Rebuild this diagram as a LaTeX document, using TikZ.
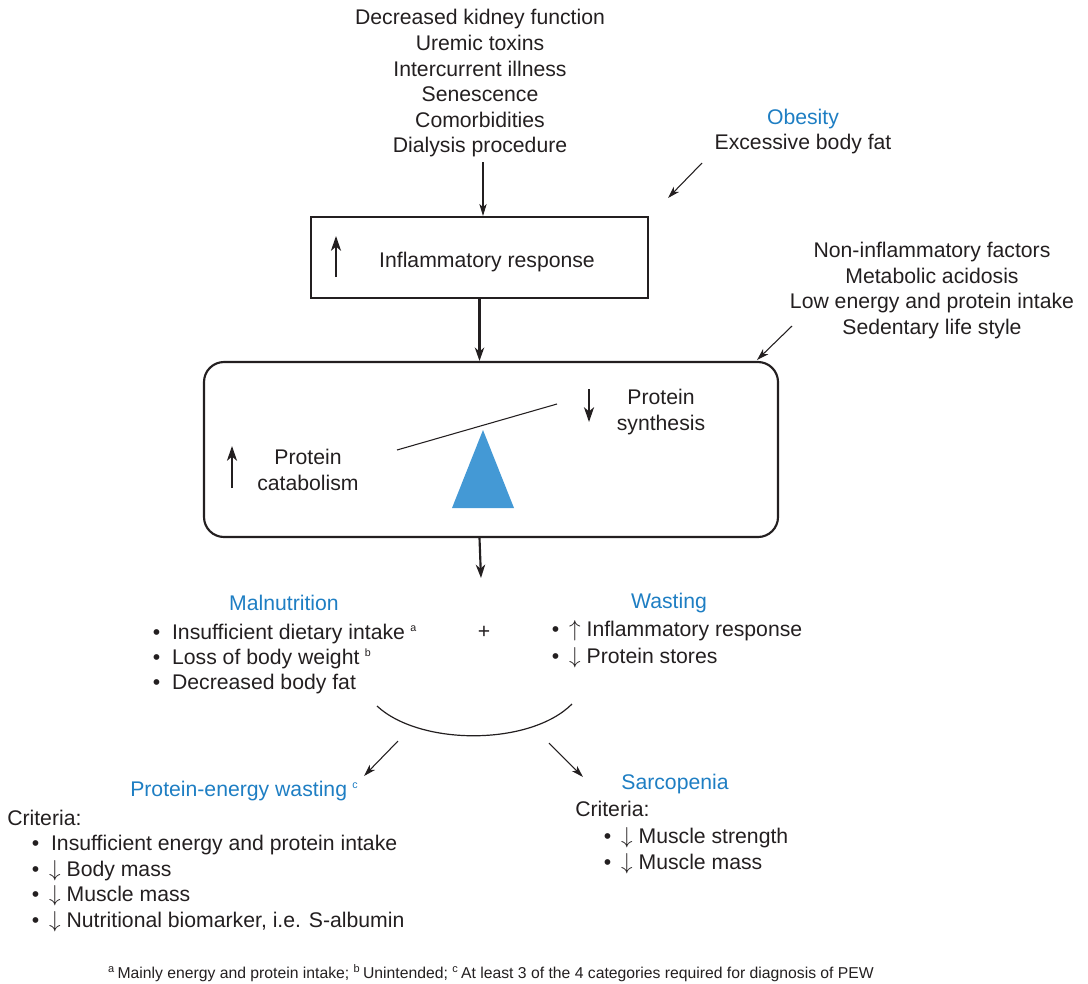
\documentclass[tikz,border=0pt]{standalone}
\usepackage{fontspec}
\setmainfont{Liberation Sans}
\usetikzlibrary{arrows.meta}
\definecolor{hblue}{HTML}{1E7EC3}
\definecolor{tri}{HTML}{4499D5}
\definecolor{ink}{HTML}{231F20}
\newcommand\bul{\makebox[14.5pt][l]{\textbullet}}
\newcommand\upar{\hspace{-1.5pt}$\uparrow$\hspace{4.5pt}}
\newcommand\dnar{\hspace{-1.5pt}$\downarrow$\hspace{4.5pt}}
\newcommand\sups[1]{\hspace{4pt}\raisebox{5.5pt}{\fontsize{8}{8}\selectfont #1}}
\begin{document}
\begin{tikzpicture}[x=0.75pt,y=-0.75pt,
  every node/.style={font=\fontsize{15.9}{19.2}\selectfont, text=ink, inner sep=0pt},
  ctr/.style={align=center},
  lst/.style={anchor=base west},
  ttl/.style={text=hblue},
  box/.style={draw=ink, line width=1.6pt},
  arr/.style={draw=ink, line width=0.8pt, -{Stealth[length=9pt,width=5.5pt,inset=2.5pt]}},
  arrT/.style={draw=ink, line width=1.6pt, -{Stealth[length=10pt,width=7pt,inset=3pt]}},
  glyph/.style={draw=ink, line width=1.6pt, -{Stealth[length=11pt,width=7.5pt,inset=3pt]}},
  note/.style={font=\fontsize{11.8}{14}\selectfont}
]
\useasboundingbox (0,0) rectangle (1088,983);

% top causes
\node[ctr] (causes) at (480,83.5) {Decreased kidney function\\Uremic toxins\\Intercurrent illness\\Senescence\\Comorbidities\\Dialysis procedure};
\coordinate (a1s) at (483,162);

% inflammatory box
\node[box, minimum width=252.75pt, minimum height=60.75pt] (box1) at (479.5,257.5) {};
\node (infl) at (487,262.5) {Inflammatory response};
\coordinate (g1s) at (336,277);
\coordinate (g1e) at (336,236);
\draw[glyph] (g1s) -- (g1e);
\draw[arr] (a1s) -- (a1s |- box1.north);

% obesity
\node[ttl] (obes) at (803,119.5) {Obesity};
\node (fat) at (803,144.5) {Excessive body fat};
\coordinate (o1s) at (702,163);
\coordinate (o1e) at (668,198);
\draw[arr] (o1s) -- (o1e);

% non-inflammatory
\node[ctr] (noninf) at (932,290.5) {Non-inflammatory factors\\Metabolic acidosis\\Low energy and protein intake\\Sedentary life style};
\coordinate (n1s) at (792,326);
\coordinate (n1e) at (757,360);
\draw[arr] (n1s) -- (n1e);

% seesaw box
\node[box, rounded corners=15pt, minimum width=430.5pt, minimum height=131.25pt] (box2) at (491,449.5) {};
\draw[arrT] (box1.south) -- (box1.south |- box2.north);
\node[ctr] (cat) at (308,470) {Protein\\catabolism};
\node[ctr] (syn) at (661,412) {Protein\\synthesis};
\coordinate (g2s) at (232,488);
\coordinate (g2e) at (232,446);
\draw[glyph] (g2s) -- (g2e);
\coordinate (g3s) at (589,389);
\coordinate (g3e) at (589,422);
\draw[glyph] (g3s) -- (g3e);
\fill[tri] (483,430) -- (514,508) -- (452,508) -- cycle;
\coordinate (bl) at (397,450);
\coordinate (br) at (557,404);
\draw[ink, line width=0.8pt] (bl) -- (br);

\coordinate (a3e) at (481,578);
\draw[arrT] (box1.south |- box2.south) -- (a3e);

% malnutrition / wasting
\node[ttl] (maln) at (284,603) {Malnutrition};
\node[lst] (m1) at (152.5,639) {\bul Insufficient dietary intake\sups{a}};
\node[lst] (m2) at (152.5,664) {\bul Loss of body weight\sups{b}};
\node[lst] (m3) at (152.5,689) {\bul Decreased body fat};
\node (plus) at (484,632) {+};
\node[ttl] (wast) at (669,603) {Wasting};
\node[lst] (w1) at (551.5,636) {\bul\upar Inflammatory response};
\node[lst] (w2) at (551.5,663) {\bul\dnar Protein stores};

% brace arc
\coordinate (arcL) at (377,706);
\coordinate (arcR) at (572,704);
\draw[ink, line width=0.9pt] (arcL) .. controls (420,746) and (530,746) .. (arcR);

\coordinate (l1s) at (398,741);
\coordinate (l1e) at (364,776);
\draw[arr] (l1s) -- (l1e);
\coordinate (r1s) at (549,743);
\coordinate (r1e) at (583,777);
\draw[arr] (r1s) -- (r1e);

% PEW
\node[ttl, lst] (pew) at (130,796) {Protein-energy wasting\sups{c}};
\node[lst] (crit1) at (7,825) {Criteria:};
\node[lst] (p1) at (31.5,850) {\bul Insufficient energy and protein intake};
\node[lst] (p2) at (31.5,876) {\bul\dnar Body mass};
\node[lst] (p3) at (31.5,901) {\bul\dnar Muscle mass};
\node[lst] (p4) at (31.5,927) {\bul\dnar Nutritional biomarker, i.e. S-albumin};

% sarcopenia
\node[ttl] (sarc) at (675,784) {Sarcopenia};
\node[lst] (crit2) at (575,816) {Criteria:};
\node[lst] (s1) at (603.5,843) {\bul\dnar Muscle strength};
\node[lst] (s2) at (603.5,869) {\bul\dnar Muscle mass};

% footnote
\node[note] (fn) at (491,973) {\textsuperscript{a}\,Mainly energy and protein intake; \textsuperscript{b}\,Unintended; \textsuperscript{c}\,At least 3 of the 4 categories required for diagnosis of PEW};
\end{tikzpicture}
\end{document}
